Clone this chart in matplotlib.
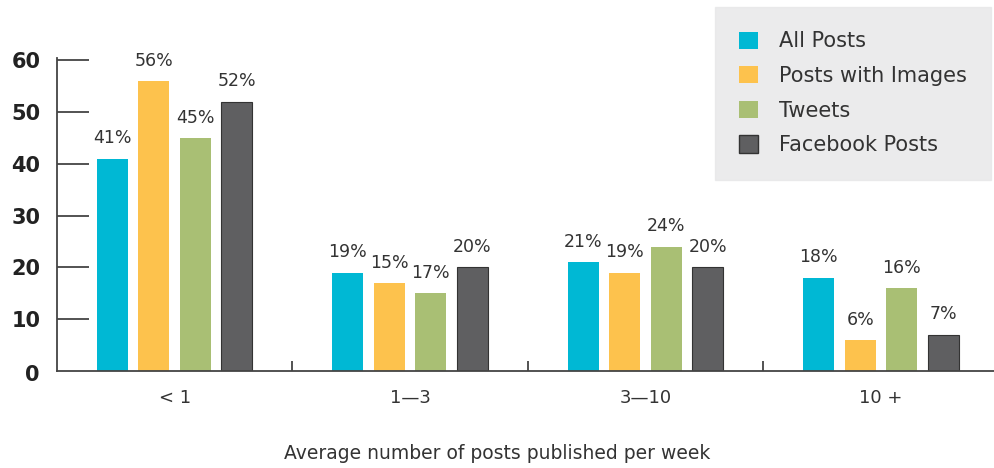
import matplotlib
matplotlib.use("Agg")
import matplotlib.pyplot as plt
from matplotlib.patches import Patch
import numpy as np

plt.rcParams['font.family'] = ['DejaVu Sans']

groups = ['< 1', '1\u20143', '3\u201410', '10 +']
series = ['All Posts', 'Posts with Images', 'Tweets', 'Facebook Posts']
colors = ['#00B8D4', '#FDC24D', '#A9BF74', '#5F5F61']

# bar heights as drawn
heights = [
    [41, 19, 21, 18],
    [56, 17, 19, 6],
    [45, 15, 24, 16],
    [52, 20, 20, 7],
]
# labels as printed above the bars
labels = [
    ['41%', '19%', '21%', '18%'],
    ['56%', '15%', '19%', '6%'],
    ['45%', '17%', '24%', '16%'],
    ['52%', '20%', '20%', '7%'],
]

fig = plt.figure(figsize=(9.94, 4.68), dpi=100)
ax = fig.add_axes([0.0573, 0.2073, 0.9427, 0.669])

x = np.arange(len(groups))
pitch = 0.176
width = 0.132
for i, s in enumerate(series):
    xs = x + (i - 1.5) * pitch
    ec = '#333333' if i == 3 else 'none'
    ax.bar(xs, heights[i], width, color=colors[i], edgecolor=ec, linewidth=0.8)
    for xi, h, lab in zip(xs, heights[i], labels[i]):
        ax.text(xi, h + 2.2, lab, ha='center', va='bottom', fontsize=12.5,
                color='#333333')

ax.set_xlim(-0.5, 3.48)
ax.set_ylim(0, 60.5)

for sp in ['top', 'right']:
    ax.spines[sp].set_visible(False)
ax.spines['left'].set_color('#444444')
ax.spines['bottom'].set_color('#444444')
ax.spines['left'].set_linewidth(1.3)
ax.spines['bottom'].set_linewidth(1.3)

ax.set_yticks([10, 20, 30, 40, 50, 60])
ax.set_yticklabels(['10', '20', '30', '40', '50', '60'], fontsize=15,
                   fontweight='bold', color='#222222')
ax.tick_params(axis='y', direction='in', length=23, width=1.3, color='#444444', pad=12)
ax.text(-0.575, -0.8, '0', ha='right', va='center', fontsize=15,
        fontweight='bold', color='#222222', transform=ax.transData)

# group labels, separator ticks on the x axis
ax.set_xticks([0.5, 1.5, 2.5], minor=True)
ax.tick_params(axis='x', which='minor', direction='in', length=7, width=1.3, color='#444444')
ax.set_xticks(x)
ax.set_xticklabels(groups, fontsize=13, color='#333333')
ax.tick_params(axis='x', which='major', length=0, pad=13)
ax.set_xlabel('Average number of posts published per week', fontsize=13.5,
              color='#333333')
ax.xaxis.set_label_coords(0.4696, -0.232)

handles = [Patch(facecolor=c, edgecolor='#333333' if i == 3 else 'none')
           for i, c in enumerate(colors)]
leg = fig.legend(handles, series, loc='upper left', bbox_to_anchor=(0.719, 0.985),
                 fontsize=15, frameon=True, fancybox=False, handlelength=0.9,
                 handleheight=0.9, handletextpad=1.0, labelspacing=0.7,
                 borderpad=1.17, borderaxespad=0)
leg.get_frame().set_facecolor('#E6E7E8')
leg.get_frame().set_edgecolor('#E6E7E8')
for t in leg.get_texts():
    t.set_color('#333333')

fig.savefig('out.png', dpi=100)
